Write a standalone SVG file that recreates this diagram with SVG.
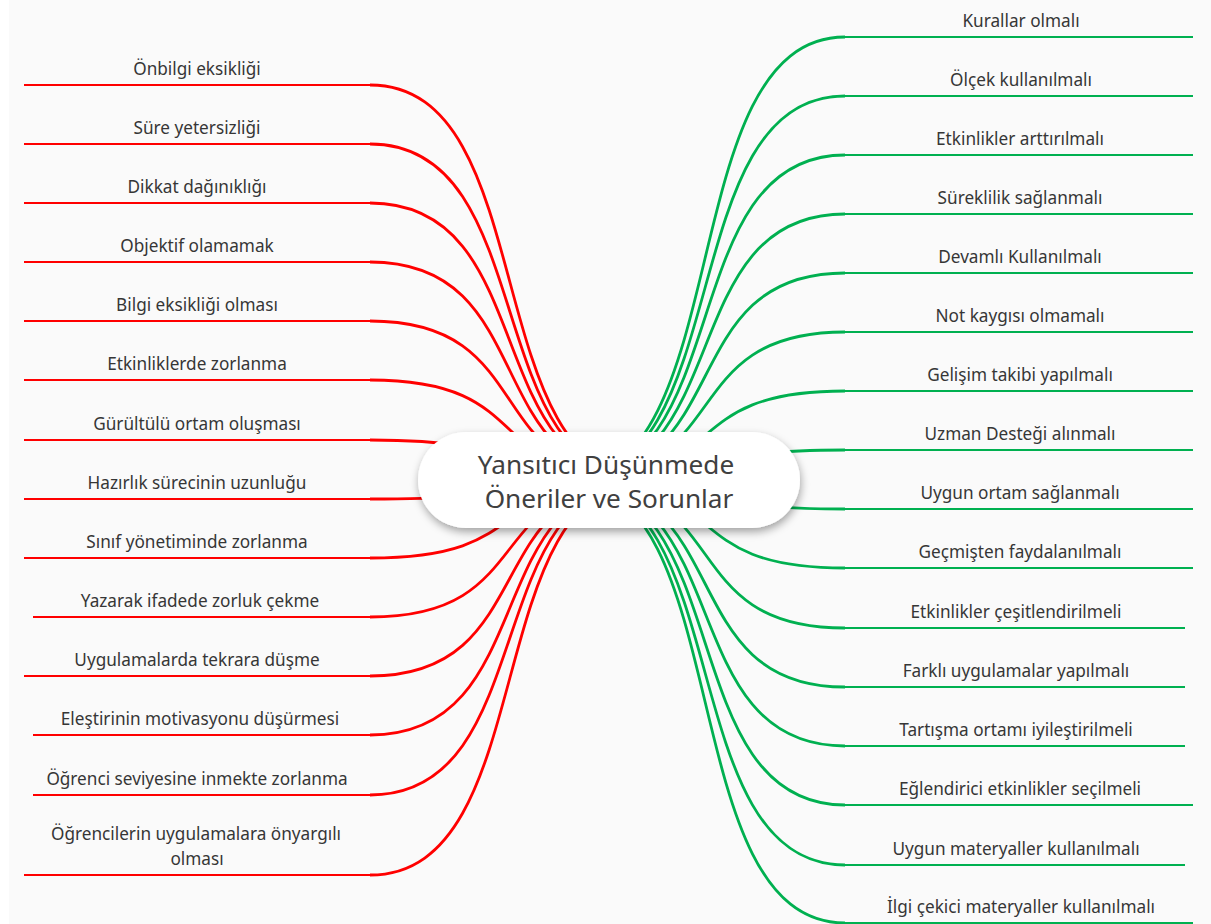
<svg xmlns="http://www.w3.org/2000/svg" width="1211" height="924" viewBox="0 0 1211 924">
<style>
.bg{fill:#fafafa}
.lbl{font-family:"Noto Sans","Open Sans","Liberation Sans",sans-serif;font-size:17.2px;fill:#363636;text-anchor:middle}
.ttl{font-family:"Noto Sans","Open Sans","Liberation Sans",sans-serif;font-size:26.2px;fill:#404040;text-anchor:middle}
.ur{stroke:#ff0000;stroke-width:2;fill:none}
.ug{stroke:#00b050;stroke-width:2;fill:none}
.cr{stroke:#ff0000;stroke-width:2.8;fill:none}
.cg{stroke:#00b050;stroke-width:2.8;fill:none}
</style>
<defs>
<filter id="sh" x="-20%" y="-40%" width="140%" height="180%">
<feDropShadow dx="1" dy="4" stdDeviation="4" flood-color="#000" flood-opacity="0.35"/>
</filter>
</defs>
<rect class="bg" x="0" y="0" width="1211" height="924"/>
<rect x="0" y="0" width="9" height="924" fill="#ffffff"/>
<g id="connectors">
<path class="cr" d="M370,85 C543.6,85 476.4,480 650,480"/>
<path class="cr" d="M370,144 C543.6,144 476.4,480 650,480"/>
<path class="cr" d="M370,203 C543.6,203 476.4,480 650,480"/>
<path class="cr" d="M370,262 C543.6,262 476.4,480 650,480"/>
<path class="cr" d="M370,321 C543.6,321 476.4,480 650,480"/>
<path class="cr" d="M370,380 C543.6,380 476.4,480 650,480"/>
<path class="cr" d="M370,440 C543.6,440 476.4,480 650,480"/>
<path class="cr" d="M370,499 C543.6,499 476.4,480 650,480"/>
<path class="cr" d="M370,558 C543.6,558 476.4,480 650,480"/>
<path class="cr" d="M370,617 C543.6,617 476.4,480 650,480"/>
<path class="cr" d="M370,676 C543.6,676 476.4,480 650,480"/>
<path class="cr" d="M370,735 C543.6,735 476.4,480 650,480"/>
<path class="cr" d="M370,795 C543.6,795 476.4,480 650,480"/>
<path class="cr" d="M370,875 C543.6,875 476.4,480 650,480"/>
<path class="cg" d="M845,37 C671.4,37 738.6,480 565,480"/>
<path class="cg" d="M845,96 C671.4,96 738.6,480 565,480"/>
<path class="cg" d="M845,155 C671.4,155 738.6,480 565,480"/>
<path class="cg" d="M845,214 C671.4,214 738.6,480 565,480"/>
<path class="cg" d="M845,273 C671.4,273 738.6,480 565,480"/>
<path class="cg" d="M845,332 C671.4,332 738.6,480 565,480"/>
<path class="cg" d="M845,391 C671.4,391 738.6,480 565,480"/>
<path class="cg" d="M845,450 C671.4,450 738.6,480 565,480"/>
<path class="cg" d="M845,509 C671.4,509 738.6,480 565,480"/>
<path class="cg" d="M845,568 C671.4,568 738.6,480 565,480"/>
<path class="cg" d="M845,628 C671.4,628 738.6,480 565,480"/>
<path class="cg" d="M845,687 C671.4,687 738.6,480 565,480"/>
<path class="cg" d="M845,746 C671.4,746 738.6,480 565,480"/>
<path class="cg" d="M845,805 C671.4,805 738.6,480 565,480"/>
<path class="cg" d="M845,865 C671.4,865 738.6,480 565,480"/>
<path class="cg" d="M845,923 C671.4,923 738.6,480 565,480"/>
</g>
<g id="center">
<rect x="418" y="432" width="382" height="96" rx="48" ry="48" fill="#ffffff" filter="url(#sh)"/>
<text class="ttl" x="606" y="474">Yansıtıcı Düşünmede</text>
<text class="ttl" x="609" y="508">Öneriler ve Sorunlar</text>
</g>
<g id="l1"><path class="ur" d="M24,85 H371"/><text class="lbl" x="197" y="75">Önbilgi eksikliği</text></g>
<g id="l2"><path class="ur" d="M24,144 H371"/><text class="lbl" x="197" y="134">Süre yetersizliği</text></g>
<g id="l3"><path class="ur" d="M24,203 H371"/><text class="lbl" x="197" y="193">Dikkat dağınıklığı</text></g>
<g id="l4"><path class="ur" d="M24,262 H371"/><text class="lbl" x="197" y="252">Objektif olamamak</text></g>
<g id="l5"><path class="ur" d="M24,321 H371"/><text class="lbl" x="197" y="311">Bilgi eksikliği olması</text></g>
<g id="l6"><path class="ur" d="M24,380 H371"/><text class="lbl" x="197" y="370">Etkinliklerde zorlanma</text></g>
<g id="l7"><path class="ur" d="M24,440 H371"/><text class="lbl" x="197" y="430">Gürültülü ortam oluşması</text></g>
<g id="l8"><path class="ur" d="M24,499 H371"/><text class="lbl" x="197" y="489">Hazırlık sürecinin uzunluğu</text></g>
<g id="l9"><path class="ur" d="M24,558 H371"/><text class="lbl" x="197" y="548">Sınıf yönetiminde zorlanma</text></g>
<g id="l10"><path class="ur" d="M33,617 H371"/><text class="lbl" x="200" y="607">Yazarak ifadede zorluk çekme</text></g>
<g id="l11"><path class="ur" d="M24,676 H371"/><text class="lbl" x="197" y="666">Uygulamalarda tekrara düşme</text></g>
<g id="l12"><path class="ur" d="M33,735 H371"/><text class="lbl" x="200" y="725">Eleştirinin motivasyonu düşürmesi</text></g>
<g id="l13"><path class="ur" d="M33,795 H371"/><text class="lbl" x="197" y="785">Öğrenci seviyesine inmekte zorlanma</text></g>
<g id="l14"><path class="ur" d="M24,875 H371"/><text class="lbl" x="196" y="840">Öğrencilerin uygulamalara önyargılı</text><text class="lbl" x="197" y="865">olması</text></g>
<g id="r1"><path class="ug" d="M844,37 H1193"/><text class="lbl" x="1021" y="27">Kurallar olmalı</text></g>
<g id="r2"><path class="ug" d="M844,96 H1193"/><text class="lbl" x="1021" y="86">Ölçek kullanılmalı</text></g>
<g id="r3"><path class="ug" d="M844,155 H1193"/><text class="lbl" x="1020" y="145">Etkinlikler arttırılmalı</text></g>
<g id="r4"><path class="ug" d="M844,214 H1193"/><text class="lbl" x="1020" y="204">Süreklilik sağlanmalı</text></g>
<g id="r5"><path class="ug" d="M844,273 H1193"/><text class="lbl" x="1020" y="263">Devamlı Kullanılmalı</text></g>
<g id="r6"><path class="ug" d="M844,332 H1193"/><text class="lbl" x="1020" y="322">Not kaygısı olmamalı</text></g>
<g id="r7"><path class="ug" d="M844,391 H1193"/><text class="lbl" x="1020" y="381">Gelişim takibi yapılmalı</text></g>
<g id="r8"><path class="ug" d="M844,450 H1193"/><text class="lbl" x="1020" y="440">Uzman Desteği alınmalı</text></g>
<g id="r9"><path class="ug" d="M844,509 H1193"/><text class="lbl" x="1020" y="499">Uygun ortam sağlanmalı</text></g>
<g id="r10"><path class="ug" d="M844,568 H1193"/><text class="lbl" x="1020" y="558">Geçmişten faydalanılmalı</text></g>
<g id="r11"><path class="ug" d="M844,628 H1185"/><text class="lbl" x="1016" y="618">Etkinlikler çeşitlendirilmeli</text></g>
<g id="r12"><path class="ug" d="M844,687 H1185"/><text class="lbl" x="1016" y="677">Farklı uygulamalar yapılmalı</text></g>
<g id="r13"><path class="ug" d="M844,746 H1185"/><text class="lbl" x="1016" y="736">Tartışma ortamı iyileştirilmeli</text></g>
<g id="r14"><path class="ug" d="M844,805 H1193"/><text class="lbl" x="1020" y="795">Eğlendirici etkinlikler seçilmeli</text></g>
<g id="r15"><path class="ug" d="M844,865 H1185"/><text class="lbl" x="1016" y="855">Uygun materyaller kullanılmalı</text></g>
<g id="r16"><path class="ug" d="M844,923 H1193"/><text class="lbl" x="1021" y="913">İlgi çekici materyaller kullanılmalı</text></g>
</svg>
